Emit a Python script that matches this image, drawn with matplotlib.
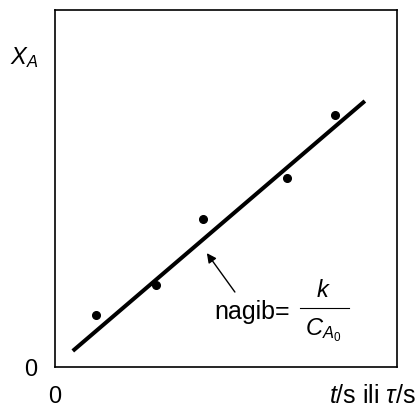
import matplotlib.pyplot as plt

plt.rcParams['font.family'] = ['Liberation Sans', 'DejaVu Sans']
plt.rcParams['mathtext.fontset'] = 'custom'
plt.rcParams['mathtext.rm'] = 'Liberation Sans'
plt.rcParams['mathtext.it'] = 'Liberation Sans:italic'
plt.rcParams['mathtext.bf'] = 'Liberation Sans:bold'

# measured points (arbitrary units, axes 0..10)
pts_x = [1.20, 2.95, 4.33, 6.78, 8.19]
pts_y = [1.46, 2.30, 4.14, 5.29, 7.06]

# fitted straight line
fit_x = [0.52, 9.06]
fit_y = [0.45, 7.45]

fig = plt.figure(figsize=(4.16, 4.12), dpi=100)
ax = fig.add_axes([55 / 416, 45 / 412, 342 / 416, 357 / 412])

ax.plot(fit_x, fit_y, color='black', lw=2.9, solid_capstyle='butt')
ax.plot(pts_x, pts_y, 'o', color='black', ms=5.5)

ax.set_xlim(0, 10)
ax.set_ylim(0, 10)
ax.set_xticks([0])
ax.set_yticks([0])
ax.tick_params(length=0, labelsize=17)
ax.tick_params(axis='x', pad=14)
ax.tick_params(axis='y', pad=13)
for s in ax.spines.values():
    s.set_linewidth(1.2)

ax.text(-0.1316, 0.868, r'$X_A$', transform=ax.transAxes, fontsize=17,
        ha='left', va='center')
ax.text(1.056, -0.081, r'$t$/s ili $\tau$/s', transform=ax.transAxes,
        fontsize=18, ha='right', va='center', clip_on=False)

ax.annotate('', xy=(4.44, 3.19), xytext=(5.26, 2.10),
            arrowprops=dict(arrowstyle='-|>', color='black', lw=1.0,
                            mutation_scale=14, shrinkA=0, shrinkB=0))
ax.text(6.87, 1.55, 'nagib=', fontsize=18, ha='right', va='center')
ax.text(7.84, 2.13, r'$k$', fontsize=17, ha='center', va='center')
ax.plot([7.16, 8.60], [1.65, 1.65], color='black', lw=0.8)
ax.text(7.85, 1.03, r'$C_{A_0}$', fontsize=17, ha='center', va='center')

fig.savefig('out.png', dpi=100)
